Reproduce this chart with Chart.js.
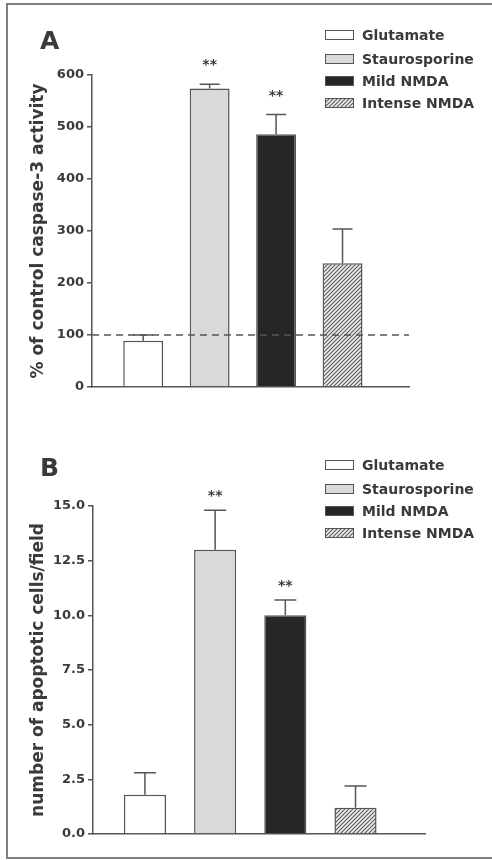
<!DOCTYPE html>
<html>
<head>
<meta charset="utf-8">
<script src="https://cdn.jsdelivr.net/npm/chart.js@4.4.0/dist/chart.umd.min.js"></script>
<style>
  html, body { margin: 0; padding: 0; background: #fff; }
  #page { width: 492px; height: 860px; position: relative; overflow: hidden; }
  .frame { position: absolute; left: 6px; top: 3px; width: 520px; height: 852px;
           border: 2px solid #808080; border-right: none; }
  canvas { position: absolute; left: 0; }
  #chartA { top: 0; }
  #chartB { top: 430px; }
</style>
</head>
<body>
<div id="page">
<div class="frame"></div>
<canvas id="chartA" width="492" height="430"></canvas>
<canvas id="chartB" width="492" height="430"></canvas>
</div>
<script>
// categories (same four treatments in both panels)
const categories = ['Glutamate', 'Staurosporine', 'Mild NMDA', 'Intense NMDA'];

// panel A: caspase-3 activity, % of control
const caspaseMean = [89, 574, 486, 238];
const caspaseErr = [11, 8, 38, 66];
const caspaseStars = ['', '**', '**', ''];
const caspaseTicks = [0, 100, 200, 300, 400, 500, 600];
const controlLevel = 100;

// panel B: apoptotic cells per field
const apoptoticMean = [1.8, 13.0, 10.0, 1.2];
const apoptoticErr = [1.0, 1.8, 0.7, 1.0];
const apoptoticStars = ['', '**', '**', ''];
const apoptoticTicks = [0, 2.5, 5, 7.5, 10, 12.5, 15];

const INK = '#3a3a3a';
const LINE = '#555555';
const FONT = '"DejaVu Sans", Arial, sans-serif';

// diagonal hatch for "Intense NMDA"
function makeHatch(step) {
    var c = document.createElement('canvas');
    c.width = step; c.height = step;
    var g = c.getContext('2d');
    g.fillStyle = '#eeeeee';
    g.fillRect(0, 0, step, step);
    g.strokeStyle = '#5e5e5e';
    g.lineWidth = 1.2;
    g.beginPath();
    g.moveTo(0, step); g.lineTo(step, 0);
    g.moveTo(-1, 1); g.lineTo(1, -1);
    g.moveTo(step - 1, step + 1); g.lineTo(step + 1, step - 1);
    g.stroke();
    return g.createPattern(c, 'repeat');
}

const hatch = makeHatch(4);
const fills = ['#ffffff', '#d9d9d9', '#262626', hatch];

// error bars, stars, dashed control line, legend and panel letter
const panelExtras = {
    id: 'panelExtras',
    afterDatasetsDraw(chart, args, o) {
        const ctx = chart.ctx;
        const xs = chart.scales.x, ys = chart.scales.y, area = chart.chartArea;
        ctx.save();
        ctx.strokeStyle = LINE;
        ctx.lineWidth = 1.5;
        o.means.forEach(function(m, i) {
            const cx = xs.getPixelForValue(i + 1);
            const top = ys.getPixelForValue(m);
            const end = ys.getPixelForValue(m + o.errs[i]);
            ctx.beginPath();
            ctx.moveTo(cx, top);
            ctx.lineTo(cx, end);
            ctx.moveTo(cx - o.cap / 2, end);
            ctx.lineTo(cx + o.cap / 2, end);
            ctx.stroke();
            if (o.stars[i]) {
                ctx.fillStyle = INK;
                ctx.font = 'bold 14px ' + FONT;
                ctx.textAlign = 'center';
                ctx.textBaseline = 'alphabetic';
                ctx.fillText(o.stars[i], cx, end - o.starGap);
            }
        });
        if (o.refLine != null) {
            const ry = ys.getPixelForValue(o.refLine);
            ctx.setLineDash([7, 5]);
            ctx.lineWidth = 1.5;
            ctx.beginPath();
            ctx.moveTo(area.left, ry);
            ctx.lineTo(area.right, ry);
            ctx.stroke();
            ctx.setLineDash([]);
        }
        ctx.restore();
    },
    afterDraw(chart, args, o) {
        const ctx = chart.ctx;
        ctx.save();
        // panel letter
        ctx.fillStyle = INK;
        ctx.font = 'bold 25px ' + FONT;
        ctx.textAlign = 'left';
        ctx.textBaseline = 'middle';
        ctx.fillText(o.letter, 40, o.letterY);
        // legend
        const rows = [35, 59, 81, 103];
        categories.forEach(function(name, i) {
            ctx.fillStyle = fills[i];
            ctx.fillRect(325, rows[i] - 5, 29, 10);
            ctx.strokeStyle = LINE;
            ctx.lineWidth = 1;
            ctx.strokeRect(325.5, rows[i] - 4.5, 28, 9);
            ctx.fillStyle = INK;
            ctx.font = 'bold 14px ' + FONT;
            ctx.textBaseline = 'middle';
            ctx.fillText(name, 362, rows[i] + 1);
        });
        ctx.restore();
    }
};

function buildChart(id, means, errs, stars, ticks, opt) {
    return new Chart(document.getElementById(id), {
        type: 'bar',
        data: {
            datasets: [{
                data: means.map(function(v, i) { return {x: i + 1, y: v}; }),
                backgroundColor: fills,
                borderColor: LINE,
                borderWidth: 1.5,
                barPercentage: 0.6,
                categoryPercentage: 1
            }]
        },
        options: {
            responsive: false,
            animation: false,
            events: [],
            layout: { padding: { left: 0, right: opt.padRight, top: opt.padTop, bottom: opt.padBottom } },
            plugins: {
                legend: { display: false },
                tooltip: { enabled: false },
                panelExtras: {
                    means: means, errs: errs, stars: stars, cap: opt.cap, starGap: opt.starGap,
                    refLine: opt.refLine, letter: opt.letter, letterY: opt.letterY
                }
            },
            scales: {
                x: {
                    type: 'linear',
                    min: opt.xMin,
                    max: opt.xMax,
                    offset: false,
                    afterBuildTicks: function(s) { s.ticks = means.map(function(v, i) { return {value: i + 1}; }); },
                    grid: { display: false },
                    ticks: { display: false },
                    border: { color: LINE, width: 1.5 },
                    afterFit: function(s) { s.height = 0; }
                },
                y: {
                    min: ticks[0],
                    max: ticks[ticks.length - 1],
                    afterBuildTicks: function(s) { s.ticks = ticks.map(function(v) { return {value: v}; }); },
                    ticks: {
                        color: INK,
                        font: { family: FONT, size: 13, weight: 'bold' },
                        padding: 3,
                        callback: function(v) { return v.toFixed(opt.decimals); }
                    },
                    grid: { drawOnChartArea: false, tickLength: 5, color: LINE, lineWidth: 1.5 },
                    border: { color: LINE, width: 1.5 },
                    title: {
                        display: true,
                        text: opt.title,
                        color: INK,
                        font: { family: FONT, size: 17, weight: 'bold' },
                        padding: { top: 28, bottom: 0 }
                    },
                    afterFit: function(s) { s.width = opt.axisLeft; }
                }
            }
        },
        plugins: [panelExtras]
    });
}

buildChart('chartA', caspaseMean, caspaseErr, caspaseStars, caspaseTicks, {
    title: '% of control caspase-3 activity', decimals: 0,
    xMin: 0.23, xMax: 5, axisLeft: 92, padRight: 83, padTop: 75, padBottom: 43,
    cap: 20, starGap: 15, refLine: controlLevel, letter: 'A', letterY: 42
});

buildChart('chartB', apoptoticMean, apoptoticErr, apoptoticStars, apoptoticTicks, {
    title: 'number of apoptotic cells/field', decimals: 1,
    xMin: 0.26, xMax: 4.99, axisLeft: 93, padRight: 67, padTop: 76, padBottom: 26,
    cap: 22, starGap: 10, refLine: null, letter: 'B', letterY: 39
});
</script>
</body>
</html>
